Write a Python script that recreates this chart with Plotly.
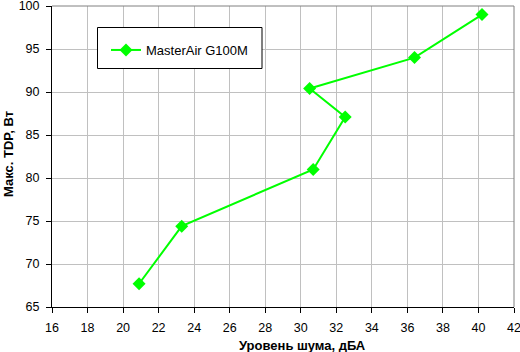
import plotly.graph_objects as go

noise_dba = [20.9, 23.3, 30.7, 32.5, 30.5, 36.4, 40.2]
tdp_w = [67.7, 74.4, 81.0, 87.1, 90.4, 94.0, 99.0]
series_name = "MasterAir G100M"
x_title = "Уровень шума, дБА"
y_title = "Макс. TDP, Вт"
x_ticks = list(range(16, 43, 2))
y_ticks = list(range(65, 101, 5))

W, H = 520, 352
ml, mr, mt, mb = 52, 6, 6, 45
pw, ph = W - ml - mr, H - mt - mb

FONT = "Liberation Sans, Arial, sans-serif"

fig = go.Figure()
fig.add_trace(go.Scatter(
    x=noise_dba, y=tdp_w, mode="lines+markers", name=series_name,
    line=dict(color="#00ff00", width=2),
    marker=dict(symbol="diamond", size=10, color="#00ff00"),
))


def px_to_paper_x(px):
    return (px - ml) / pw


def px_to_paper_y(py):
    return 1 - (py - mt) / ph


fig.update_layout(
    width=W, height=H,
    margin=dict(l=ml, r=mr, t=mt, b=mb, autoexpand=False),
    paper_bgcolor="white", plot_bgcolor="white",
    font=dict(family=FONT, size=12, color="black"),
    showlegend=True,
    legend=dict(
        x=px_to_paper_x(106), y=px_to_paper_y(35),
        xanchor="left", yanchor="top",
        bgcolor="rgba(0,0,0,0)", borderwidth=0,
        font=dict(family=FONT, size=13, color="black"),
    ),
    xaxis=dict(
        range=[16, 42], tickvals=x_ticks, ticktext=[str(v) for v in x_ticks],
        showgrid=True, gridcolor="#c0c0c0", gridwidth=1,
        showline=True, linecolor="black", linewidth=1,
        ticks="outside", ticklen=5, tickcolor="black", automargin=False,
        zeroline=False, ticklabeloverflow="allow", ticklabelstandoff=4,
        tickfont=dict(family=FONT, size=12.5),
    ),
    yaxis=dict(
        range=[65, 100], tickvals=y_ticks, ticktext=[str(v) for v in y_ticks],
        showgrid=True, gridcolor="#c0c0c0", gridwidth=1,
        showline=True, linecolor="black", linewidth=1,
        ticks="outside", ticklen=5, tickcolor="black", automargin=False,
        zeroline=False, ticklabeloverflow="allow", ticklabelstandoff=4,
        tickfont=dict(family=FONT, size=12.5),
    ),
    annotations=[
        dict(text="<b>" + x_title + "</b>", xref="paper", yref="paper",
             x=px_to_paper_x(302), y=px_to_paper_y(345), xanchor="center", yanchor="middle",
             showarrow=False, font=dict(family=FONT, size=13)),
        dict(text="<b>" + y_title + "</b>", xref="paper", yref="paper",
             x=px_to_paper_x(8), y=px_to_paper_y(154), xanchor="center", yanchor="middle",
             textangle=-90, showarrow=False, font=dict(family=FONT, size=13)),
    ],
    shapes=[
        dict(type="line", xref="paper", yref="paper", x0=0, x1=1, y0=1, y1=1,
             line=dict(color="#808080", width=1)),
        dict(type="line", xref="paper", yref="paper", x0=1, x1=1, y0=0, y1=1,
             line=dict(color="#808080", width=1)),
        dict(type="rect", xref="paper", yref="paper",
             x0=px_to_paper_x(97.5), x1=px_to_paper_x(262),
             y0=px_to_paper_y(68.5), y1=px_to_paper_y(27.5),
             line=dict(color="black", width=1), fillcolor="white", layer="above"),
    ],
)
fig.write_html("out.html")
